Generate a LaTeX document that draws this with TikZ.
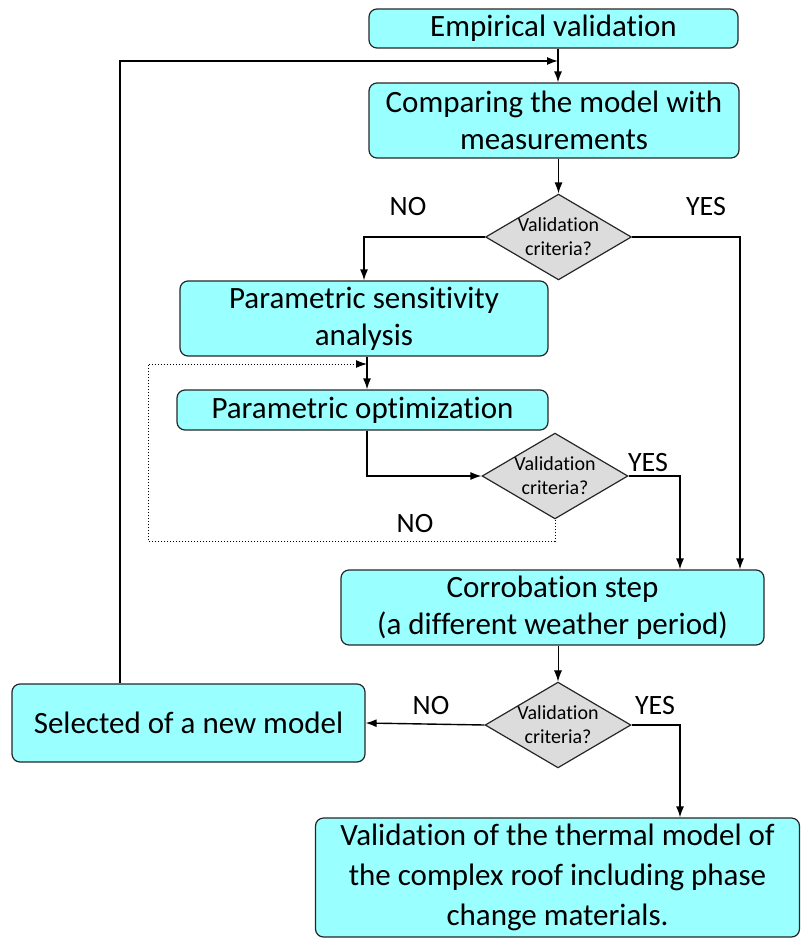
\documentclass[tikz,border=0pt]{standalone}
\usepackage{fontspec}
\setmainfont{Carlito}[Ligatures=NoCommon]
\usetikzlibrary{shapes.geometric,arrows.meta}
\definecolor{boxcyan}{HTML}{99FFFF}
\definecolor{checkgrey}{HTML}{DCDCDC}

\def\mainfont{\fontsize{31}{37}\selectfont}

\begin{document}
\begin{tikzpicture}[>={Latex[length=11pt,width=8pt]},x=1pt,y=-1pt,
  stepbox/.style={draw=black!85,fill=boxcyan,rounded corners=8pt,line width=1.2pt,
    align=center,font=\mainfont,inner sep=0pt},
  check/.style={draw=black!85,fill=checkgrey,diamond,aspect=1.7,line width=1.2pt,
    align=center,font=\fontsize{20}{24}\selectfont,inner sep=0pt,
    minimum width=145,minimum height=85},
  answer/.style={font=\fontsize{28}{30}\selectfont},
  flow/.style={->,line width=1.4pt}]
\useasboundingbox (0,0) rectangle (801,938);

% boxes
\node[stepbox,minimum width=369,minimum height=39] (empir) at (553.5,28.5) {Empirical validation};
\node[stepbox,minimum width=370,minimum height=75] (compare) at (554,120.5)
  {Comparing the model with\\measurements};
\node[check] (crit1) at (558.5,237) {Validation\\criteria?};
\node[stepbox,minimum width=368,minimum height=75] (sensit) at (364,318.5)
  {Parametric sensitivity\\analysis};
\node[stepbox,minimum width=371,minimum height=40] (optim) at (362.5,410) {Parametric optimization};
\node[check] (crit2) at (555,476) {Validation\\criteria?};
\node[stepbox,minimum width=423,minimum height=75] (corrob) at (552.5,607.5)
  {Corrobation step\\(a different weather period)};
\node[check] (crit3) at (558,725) {Validation\\criteria?};
\node[stepbox,minimum width=353,minimum height=78] (newmod) at (188.5,723) {Selected of a new model};
\node[stepbox,minimum width=484,minimum height=119,font=\fontsize{31}{40}\selectfont] (final) at (557.5,877.5)
  {Validation of the thermal model of\\the complex roof including phase\\change materials.};

% labels
\node[answer] (no1) at (408,207) {NO};
\node[answer] (yes1) at (706,207) {YES};
\node[answer] (yes2) at (648,463) {YES};
\node[answer] (no2) at (415,524) {NO};
\node[answer] (no3) at (431,706) {NO};
\node[answer] (yes3) at (655,706) {YES};

% helper points
\coordinate (join) at (558,61);
\coordinate (back) at (120,61);
\coordinate (mid) at (367,364);
\coordinate (loop) at (148,541);
\coordinate (right1) at (740,0);
\coordinate (right2) at (680,0);

% connectors
\draw[flow] (empir.south -| join) -- (compare.north -| join);
\draw[flow] (newmod.north -| back) -- (back) -- (join);
\draw[flow] (compare.south -| crit1) -- (crit1.north);
\draw[flow] (crit1.west) -| (sensit.north);
\draw[flow] (crit1.east) -| (corrob.north -| right1);
\draw[flow] (sensit.south -| mid) -- (optim.north -| mid);
\draw[flow] (optim.south -| mid) |- (crit2.west);
\draw[->,line width=1pt,dotted] (crit2.south) |- (loop) |- (mid);
\draw[flow] (crit2.east) -| (corrob.north -| right2);
\draw[->,line width=1pt] (corrob.south -| crit3) -- (crit3.north);
\draw[flow] (crit3.west) -- (newmod.east);
\draw[flow] (crit3.east) -| (final.north -| right2);

\end{tikzpicture}
\end{document}
